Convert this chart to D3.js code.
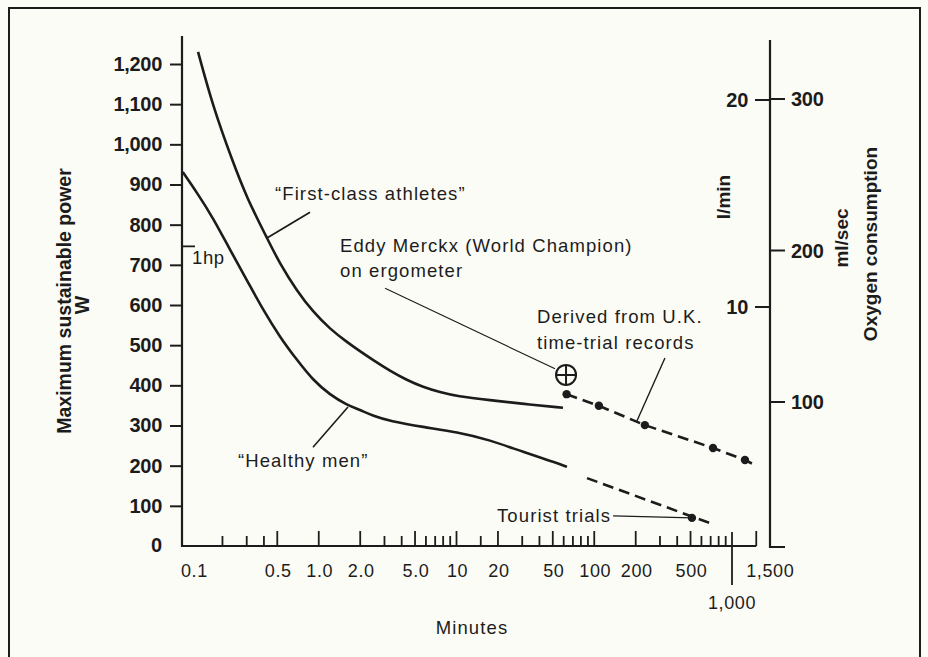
<!DOCTYPE html>
<html><head><meta charset="utf-8">
<script src="https://cdn.jsdelivr.net/npm/d3@7"></script>
<style>
html,body{margin:0;padding:0;background:#fcfcf7;}
svg{display:block;}
text{font-family:"Liberation Sans",Arial,sans-serif;fill:#1c1c1c;}
</style></head><body>
<svg id="chart" width="928" height="657"></svg>
<script>
// ---------------- data ----------------
const firstClassMinutes = [0.133, 0.171, 0.235, 0.301, 0.421, 0.523, 0.695, 0.908, 1.21, 1.60, 1.99, 2.48, 3.29, 4.37, 5.71, 7.59, 10.1, 17.5, 30.4, 59.3];
const firstClassWatts   = [1230, 1093, 961, 866, 767, 702, 635, 583, 540, 508, 485, 463, 436, 413, 396, 383, 373, 363, 354, 344];
const healthyMinutes = [0.103, 0.131, 0.171, 0.227, 0.301, 0.394, 0.523, 0.695, 0.908, 1.21, 1.60, 1.99, 2.48, 3.29, 5.71, 10.1, 17.5, 30.4, 53.6, 63.4];
const healthyWatts   = [931, 879, 817, 737, 662, 588, 520, 463, 413, 376, 351, 339, 324, 311, 296, 284, 264, 234, 207, 197];
const ukRecordMinutes = [63, 108, 233, 728, 1242];
const ukRecordWatts   = [378, 349, 301, 244, 214];
const ukTrendMinutes  = [63, 108, 233, 728, 1242, 1420];
const ukTrendWatts    = [378, 349, 301, 244, 214, 204];
const touristTrendMinutes = [88.6, 692];
const touristTrendWatts   = [169, 57];
const touristPointMinutes = [512];
const touristPointWatts   = [70];
const merckxMinutes = [62.4];
const merckxWatts   = [426];
const oneHorsepowerWatts = 746;

const powerTicks = [100, 200, 300, 400, 500, 600, 700, 800, 900, 1000, 1100, 1200];
const powerZeroLabel = "0";
const minuteMajorTicks = [0.5, 1, 2, 5, 10, 20, 50, 100, 200, 500, 1500];
const minuteMinorTicks = [0.2, 0.3, 0.4, 3, 4, 6, 7, 8, 9, 15, 30, 40, 60, 70, 80, 90, 300, 400, 600, 700, 800, 900];
const minuteLabelValues = [0.1, 0.5, 1, 2, 5, 10, 20, 50, 100, 200, 500, 1500];
const minuteLabelTexts  = ["0.1", "0.5", "1.0", "2.0", "5.0", "10", "20", "50", "100", "200", "500", "1,500"];
const minuteLongTick = 1000;
const minuteLongTickText = "1,000";
const litrePerMinTicks = [10, 20];
const mlPerSecTicks = [100, 200, 300];

// annotation anchors (minutes, watts)
const leaderFirstClass = [[0.421, 767], [0.864, 831]];
const leaderHealthy    = [[0.908, 246], [1.63, 346]];
const leaderMerckx     = [[3.03, 642], [51.9, 441]];
const leaderDerived    = [[326, 468], [204, 311]];
const leaderTourist    = [[137, 75], [512, 70]];

// ---------------- drawing ----------------
const ink = "#1c1c1c";
const svg = d3.select("#chart");
svg.append("rect").attr("width", 928).attr("height", 657).attr("fill", "#fcfcf7");
// frame
svg.append("rect").attr("x", 9).attr("y", 8).attr("width", 911).attr("height", 670)
  .attr("fill", "none").attr("stroke", ink).attr("stroke-width", 2);

const x = d3.scaleLog().domain([0.1, 1000]).range([181, 732]);
const y = d3.scaleLinear().domain([0, 1200]).range([546, 64]);
const yL = d3.scaleLinear().domain([10, 20]).range([307, 100]);
const yM = d3.scaleLinear().domain([100, 300]).range([402, 99]);

const axisG = svg.append("g").attr("stroke", ink).attr("fill", "none");
// left axis line
axisG.append("line").attr("x1", 182).attr("x2", 182).attr("y1", 36).attr("y2", 547).attr("stroke-width", 2.2);
// x axis line
axisG.append("line").attr("x1", 181).attr("x2", x(1500)).attr("y1", y(0)).attr("y2", y(0)).attr("stroke-width", 2.2);

// left axis ticks + labels via d3.axisLeft
const leftAxis = d3.axisLeft(y).tickValues(powerTicks).tickSize(12).tickPadding(8).tickFormat(d3.format(","));
const la = svg.append("g").attr("transform", "translate(182,0)").call(leftAxis);
la.select(".domain").remove();
la.selectAll(".tick line").attr("stroke", ink).attr("stroke-width", 2);
la.selectAll(".tick text").attr("font-size", 20).attr("font-weight", "bold").attr("fill", ink)
  .attr("font-family", "Liberation Sans, Arial, sans-serif").attr("letter-spacing", -0.3);
svg.append("text").attr("x", 162).attr("y", y(0)).attr("dy", "0.3em").attr("text-anchor", "end")
  .attr("font-size", 20).attr("font-weight", "bold").text(powerZeroLabel);

// 1hp marker
axisG.append("line").attr("x1", 182).attr("x2", 195).attr("y1", y(oneHorsepowerWatts)).attr("y2", y(oneHorsepowerWatts)).attr("stroke-width", 1.8);
svg.append("text").attr("x", 192).attr("y", y(oneHorsepowerWatts) + 18).attr("font-size", 18.5).attr("letter-spacing", 0.6).text("1hp");

// x ticks
axisG.selectAll(".xmaj").data(minuteMajorTicks).join("line")
  .attr("x1", d => x(d)).attr("x2", d => x(d)).attr("y1", y(0)).attr("y2", y(0) - 15).attr("stroke-width", 1.8);
axisG.selectAll(".xmin").data(minuteMinorTicks).join("line")
  .attr("x1", d => x(d)).attr("x2", d => x(d)).attr("y1", y(0)).attr("y2", y(0) - 10).attr("stroke-width", 1.8);
axisG.append("line").attr("x1", x(minuteLongTick)).attr("x2", x(minuteLongTick))
  .attr("y1", y(0) - 14).attr("y2", y(0) + 39).attr("stroke-width", 1.8);

svg.selectAll(".xlab").data(minuteLabelValues).join("text")
  .attr("x", (d, i) => x(d) + (i === 0 ? 0 : (d === 1500 ? 14 : 1)))
  .attr("y", 577)
  .attr("text-anchor", (d, i) => i === 0 ? "start" : "middle")
  .attr("font-size", 18).attr("letter-spacing", 0.6)
  .text((d, i) => minuteLabelTexts[i]);
svg.append("text").attr("x", x(minuteLongTick)).attr("y", 609).attr("text-anchor", "middle")
  .attr("font-size", 18).attr("letter-spacing", 0.6).text(minuteLongTickText);
svg.append("text").attr("x", 472).attr("y", 634).attr("text-anchor", "middle")
  .attr("font-size", 18.5).attr("letter-spacing", 1.1).text("Minutes");

// left axis title
svg.append("text").attr("transform", "translate(71,301) rotate(-90)").attr("text-anchor", "middle")
  .attr("font-size", 19.5).attr("font-weight", "bold").text("Maximum sustainable power");
svg.append("text").attr("transform", "translate(89,305) rotate(-90)").attr("text-anchor", "middle")
  .attr("font-size", 19.5).attr("font-weight", "bold").text("W");

// right axis
const rx = 770;
axisG.append("path").attr("d", `M${rx},40V547H785`).attr("stroke-width", 2.2);
axisG.selectAll(".lt").data(litrePerMinTicks).join("line")
  .attr("x1", rx - 15).attr("x2", rx).attr("y1", d => yL(d)).attr("y2", d => yL(d)).attr("stroke-width", 2);
axisG.selectAll(".mt").data(mlPerSecTicks).join("line")
  .attr("x1", rx).attr("x2", rx + 15).attr("y1", d => yM(d)).attr("y2", d => yM(d)).attr("stroke-width", 2);
svg.selectAll(".ltl").data(litrePerMinTicks).join("text")
  .attr("x", rx - 22).attr("y", d => yL(d)).attr("dy", "0.35em").attr("text-anchor", "end")
  .attr("font-size", 20).attr("font-weight", "bold").attr("letter-spacing", -0.3).text(d => d);
svg.selectAll(".mtl").data(mlPerSecTicks).join("text")
  .attr("x", rx + 21).attr("y", d => yM(d)).attr("dy", "0.35em").attr("text-anchor", "start")
  .attr("font-size", 20).attr("font-weight", "bold").attr("letter-spacing", -0.3).text(d => d);
svg.append("text").attr("transform", "translate(730,197) rotate(-90)").attr("text-anchor", "middle")
  .attr("font-size", 19).attr("font-weight", "bold").text("l/min");
svg.append("text").attr("transform", "translate(848,238) rotate(-90)").attr("text-anchor", "middle")
  .attr("font-size", 19).attr("font-weight", "bold").text("ml/sec");
svg.append("text").attr("transform", "translate(877,244) rotate(-90)").attr("text-anchor", "middle")
  .attr("font-size", 19).attr("font-weight", "bold").text("Oxygen consumption");

// curves
const line = d3.line().x(d => x(d[0])).y(d => y(d[1])).curve(d3.curveBasis);
const straight = d3.line().x(d => x(d[0])).y(d => y(d[1]));
const curves = svg.append("g").attr("fill", "none").attr("stroke", ink);
curves.append("path").attr("d", line(d3.zip(firstClassMinutes, firstClassWatts))).attr("stroke-width", 2.6);
curves.append("path").attr("d", line(d3.zip(healthyMinutes, healthyWatts))).attr("stroke-width", 2.6);
curves.append("path").attr("d", straight(d3.zip(ukTrendMinutes, ukTrendWatts))).attr("stroke-width", 2.6).attr("stroke-dasharray", "11,6");
curves.append("path").attr("d", straight(d3.zip(touristTrendMinutes, touristTrendWatts))).attr("stroke-width", 2.6).attr("stroke-dasharray", "11,6");

// points
svg.selectAll(".uk").data(d3.zip(ukRecordMinutes, ukRecordWatts)).join("circle")
  .attr("cx", d => x(d[0])).attr("cy", d => y(d[1])).attr("r", 4.2).attr("fill", ink);
svg.selectAll(".tour").data(d3.zip(touristPointMinutes, touristPointWatts)).join("circle")
  .attr("cx", d => x(d[0])).attr("cy", d => y(d[1])).attr("r", 4.2).attr("fill", ink);
const mg = svg.selectAll(".merckx").data(d3.zip(merckxMinutes, merckxWatts)).join("g")
  .attr("transform", d => `translate(${x(d[0])},${y(d[1])})`).attr("fill", "none").attr("stroke", ink).attr("stroke-width", 2);
mg.append("circle").attr("r", 10);
mg.append("path").attr("d", "M-10,0H10M0,-10V10");

// leaders
const leaders = svg.append("g").attr("stroke", ink).attr("fill", "none");
[[leaderFirstClass, 1.8], [leaderHealthy, 1.6], [leaderMerckx, 1.1], [leaderDerived, 1.4], [leaderTourist, 1.4]]
  .forEach(([pts, w]) => leaders.append("path").attr("d", straight(pts)).attr("stroke-width", w));

// annotation text
const ann = [
  ["\u201CFirst-class athletes\u201D", 275, 200],
  ["Eddy Merckx (World Champion)", 340, 252],
  ["on ergometer", 340, 277],
  ["Derived from U.K.", 537, 323],
  ["time-trial records", 537, 349],
  ["\u201CHealthy men\u201D", 238, 467],
  ["Tourist trials", 497, 522]
];
svg.selectAll(".ann").data(ann).join("text")
  .attr("x", d => d[1]).attr("y", d => d[2]).attr("font-size", 18.5).attr("letter-spacing", 1.1).text(d => d[0]);
</script>
</body></html>
